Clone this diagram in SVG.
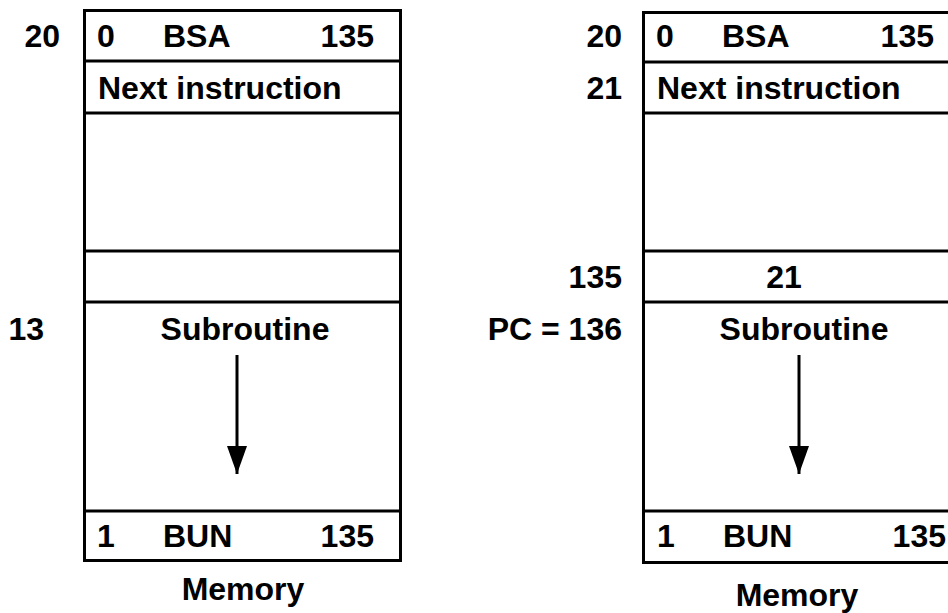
<svg xmlns="http://www.w3.org/2000/svg" width="948" height="613" viewBox="0 0 948 613">
<style>
text{font-family:"Liberation Sans",Arial,sans-serif;font-weight:bold;font-size:32px;fill:#000}
.box{fill:#fff;stroke:#000;stroke-width:3}
.div{stroke:#000;stroke-width:3}
.r{text-anchor:end}
.m{text-anchor:middle}
.flow{stroke:#000;stroke-width:3;marker-end:url(#ah)}
</style>
<defs>
<marker id="ah" markerWidth="28" markerHeight="20" refX="28" refY="10" orient="auto" markerUnits="userSpaceOnUse" viewBox="0 0 28 20">
<path d="M0,0 L28,10 L0,20 Z" fill="#000"/>
</marker>
</defs>
<g id="memory-before">
<rect class="box" x="84.5" y="10.5" width="316" height="550"/>
<line class="div" x1="84.5" y1="61" x2="400.5" y2="61"/>
<line class="div" x1="84.5" y1="113" x2="400.5" y2="113"/>
<line class="div" x1="84.5" y1="251" x2="400.5" y2="251"/>
<line class="div" x1="84.5" y1="302" x2="400.5" y2="302"/>
<line class="div" x1="84.5" y1="511" x2="400.5" y2="511"/>
<text class="r" x="60" y="47">20</text>
<text x="97" y="47">0</text>
<text x="163" y="47">BSA</text>
<text class="r" x="374" y="47">135</text>
<text x="98" y="99">Next instruction</text>
<text class="r" x="44" y="340">13</text>
<text class="m" x="245" y="340">Subroutine</text>
<text x="97" y="547">1</text>
<text x="163" y="547">BUN</text>
<text class="r" x="374" y="547">135</text>
<text class="m" x="243" y="600">Memory</text>
</g>
<g id="memory-after">
<rect class="box" x="643.5" y="12.5" width="330" height="550"/>
<line class="div" x1="643.5" y1="62" x2="948" y2="62"/>
<line class="div" x1="643.5" y1="113" x2="948" y2="113"/>
<line class="div" x1="643.5" y1="251" x2="948" y2="251"/>
<line class="div" x1="643.5" y1="302" x2="948" y2="302"/>
<line class="div" x1="643.5" y1="511" x2="948" y2="511"/>
<text class="r" x="622" y="47">20</text>
<text x="656" y="47">0</text>
<text x="722" y="47">BSA</text>
<text class="r" x="934" y="47">135</text>
<text class="r" x="622" y="99">21</text>
<text x="657" y="99">Next instruction</text>
<text class="r" x="622" y="288">135</text>
<text class="m" x="784" y="288">21</text>
<text class="r" x="622" y="340">PC = 136</text>
<text class="m" x="804" y="340">Subroutine</text>
<text x="657" y="547">1</text>
<text x="723" y="547">BUN</text>
<text class="r" x="946" y="547">135</text>
<text class="m" x="797" y="606">Memory</text>
</g>
<g id="connectors">
<line class="flow" x1="237" y1="355" x2="237" y2="474"/>
<line class="flow" x1="799" y1="355" x2="799" y2="474"/>
</g>
</svg>
